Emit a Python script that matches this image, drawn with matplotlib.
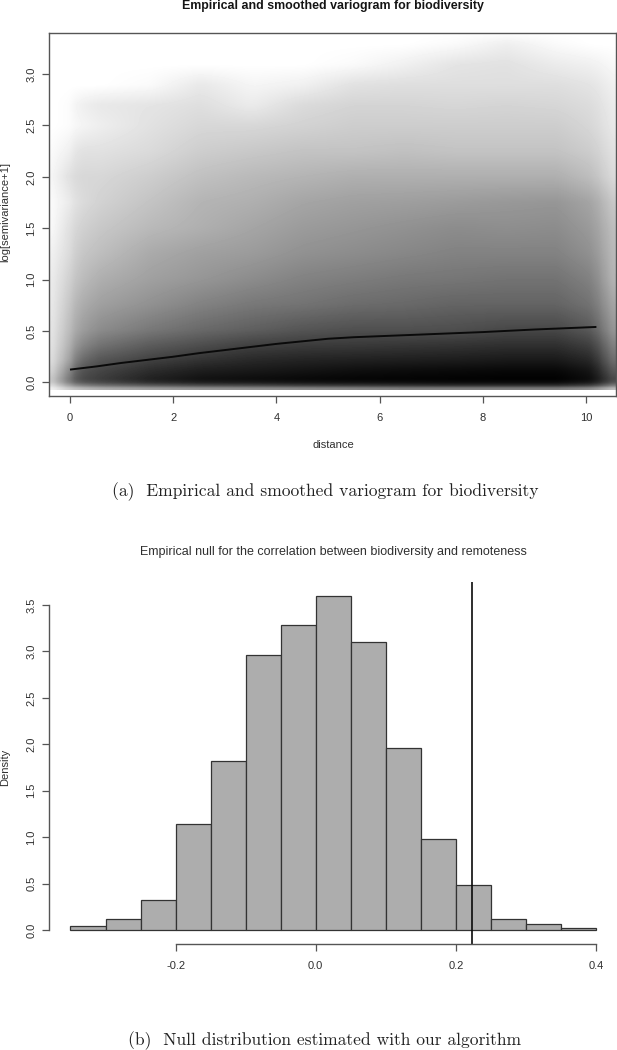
import matplotlib
matplotlib.use("Agg")
import matplotlib.pyplot as plt
import numpy as np

W, H = 617, 1050
SANS = "Liberation Sans"

grid_x = [-0.42, -0.1, 0.1, 0.5, 1.5, 2.5, 3.5, 4.5, 5.5, 6.5, 7.5, 8.5, 9.5, 10.2, 10.6]
grid_y = [-0.075, -0.04, 0.0, 0.1, 0.2, 0.35, 0.5, 0.75, 1.0, 1.25, 1.5, 1.75, 2.0, 2.25, 2.5, 2.7, 2.9, 3.1, 3.3, 3.41]
gray_levels = [
    [240, 205, 190, 175, 160, 150, 145, 140, 135, 130, 130, 130, 130, 145, 190],
    [215, 155, 120, 100, 75, 60, 55, 45, 40, 35, 30, 30, 30, 50, 110],
    [195, 120, 75, 60, 30, 15, 10, 6, 3, 2, 1, 0, 0, 12, 70],
    [210, 140, 85, 70, 45, 30, 25, 20, 15, 12, 10, 8, 8, 22, 90],
    [220, 165, 110, 85, 65, 50, 40, 35, 32, 30, 28, 25, 25, 40, 110],
    [225, 180, 140, 115, 92, 78, 65, 60, 58, 55, 52, 48, 48, 65, 130],
    [228, 190, 160, 140, 120, 105, 95, 85, 80, 80, 78, 72, 72, 90, 150],
    [232, 200, 175, 160, 145, 130, 120, 115, 108, 105, 100, 100, 100, 115, 165],
    [235, 210, 190, 175, 160, 150, 140, 130, 125, 120, 118, 115, 115, 130, 180],
    [240, 220, 200, 190, 170, 160, 155, 145, 140, 135, 130, 130, 130, 145, 185],
    [248, 225, 210, 200, 185, 175, 165, 155, 150, 145, 140, 142, 140, 155, 190],
    [250, 235, 220, 210, 195, 180, 175, 165, 160, 158, 155, 152, 150, 165, 200],
    [245, 225, 215, 215, 205, 192, 185, 180, 175, 175, 175, 175, 175, 190, 218],
    [250, 240, 225, 225, 218, 205, 200, 195, 195, 192, 195, 195, 195, 205, 225],
    [255, 252, 245, 238, 225, 215, 215, 210, 205, 205, 205, 205, 205, 215, 232],
    [255, 252, 240, 232, 228, 222, 235, 218, 212, 212, 214, 212, 214, 220, 235],
    [255, 255, 255, 255, 250, 232, 245, 240, 225, 222, 222, 222, 222, 228, 240],
    [255, 255, 255, 255, 255, 255, 255, 255, 250, 240, 228, 225, 235, 240, 248],
    [255, 255, 255, 255, 255, 255, 255, 255, 255, 255, 250, 238, 250, 255, 255],
    [255, 255, 255, 255, 255, 255, 255, 255, 255, 255, 255, 255, 255, 255, 255],
]

smooth_x = [0, 0.5, 1, 1.5, 2, 2.5, 3, 3.5, 4, 4.5, 5, 5.5, 6, 7, 8, 9, 10.2]
smooth_y = [0.125, 0.155, 0.19, 0.22, 0.25, 0.285, 0.315, 0.345, 0.375, 0.40, 0.425, 0.44, 0.45, 0.47, 0.49, 0.515, 0.54]

bin_edges = [-0.35, -0.30, -0.25, -0.20, -0.15, -0.10, -0.05, 0.0, 0.05, 0.10, 0.15, 0.20, 0.25, 0.30, 0.35, 0.40]
density = [0.04, 0.12, 0.32, 1.14, 1.82, 2.96, 3.28, 3.60, 3.10, 1.96, 0.98, 0.48, 0.12, 0.06, 0.02]
observed = 0.2236

x_ticks_a = [0, 2, 4, 6, 8, 10]
y_ticks_a = [0.0, 0.5, 1.0, 1.5, 2.0, 2.5, 3.0]
x_ticks_b = [-0.2, 0.0, 0.2, 0.4]
y_ticks_b = [0.0, 0.5, 1.0, 1.5, 2.0, 2.5, 3.0, 3.5]

INK = "#303030"
AXC = "#555555"

fig = plt.figure(figsize=(W / 100, H / 100), dpi=100)


def px_axes(left, top, right, bottom):
    return fig.add_axes([left / W, 1 - bottom / H, (right - left) / W, (bottom - top) / H])


def label(x, y, s, **kw):
    kw.setdefault("family", SANS)
    kw.setdefault("color", INK)
    fig.text(x / W, 1 - y / H, s, ha="center", va="center", **kw)


# Panel (a): resample the read grey levels on a regular raster, then let imshow smooth them
ax = px_axes(49, 33, 616, 395.7)
levels = np.array(gray_levels, float)
fine_x = np.linspace(grid_x[0], grid_x[-1], 70)
fine_y = np.linspace(grid_y[0], grid_y[-1], 110)
by_col = np.array([np.interp(fine_x, grid_x, row) for row in levels])
raster = np.array([np.interp(fine_y, grid_y, col) for col in by_col.T]).T
ax.imshow(raster, cmap="gray", vmin=0, vmax=255, origin="lower", aspect="auto",
          interpolation="gaussian",
          extent=(grid_x[0], grid_x[-1], grid_y[0], grid_y[-1]))
ax.set_xlim(-0.407, 10.58)
ax.set_ylim(-0.129, 3.40)
ax.plot(smooth_x, smooth_y, color="#0a0a0a", lw=1.4, solid_capstyle="butt")
ax.set_xticks(x_ticks_a, [str(t) for t in x_ticks_a])
ax.set_yticks(y_ticks_a, [f"{t:.1f}" for t in y_ticks_a])
ax.tick_params(axis="both", length=5.2, width=0.9, color=AXC, labelcolor=INK, labelsize=8.0)
ax.tick_params(axis="x", pad=7)
ax.tick_params(axis="y", pad=4)
for lab in ax.get_yticklabels():
    lab.set_rotation(90)
    lab.set_va("center")
for lab in ax.get_xticklabels() + ax.get_yticklabels():
    lab.set_family(SANS)
for sp in ax.spines.values():
    sp.set_color(AXC)
    sp.set_linewidth(1.0)

label(333, 6, "Empirical and smoothed variogram for biodiversity", fontsize=8.95, weight="bold", color="#151515")
label(333, 445, "distance", fontsize=8.0)
label(5, 212, "log[semivariance+1]", fontsize=8.0, rotation=90)
label(325, 492, "(a)  Empirical and smoothed variogram for biodiversity", family="cmr10", fontsize=12.6, color="#222222")

# Panel (b)
bx = px_axes(49, 582, 616, 944)
bx.set_xlim((49 - 315.7) / 700.6, (616 - 315.7) / 700.6)
bx.set_ylim(-14 / 92.86, 348 / 92.86)
bx.bar(bin_edges[:-1], density, width=np.diff(bin_edges), align="edge",
       facecolor="#adadad", edgecolor="#333333", linewidth=0.9)
bx.axvline(observed, color="#0a0a0a", lw=1.2)
bx.set_xticks(x_ticks_b, [f"{t:.1f}" for t in x_ticks_b])
bx.set_yticks(y_ticks_b, [f"{t:.1f}" for t in y_ticks_b])
bx.tick_params(axis="both", length=5.2, width=0.9, color=AXC, labelcolor=INK, labelsize=8.0)
bx.tick_params(axis="x", pad=7)
bx.tick_params(axis="y", pad=4)
for lab in bx.get_yticklabels():
    lab.set_rotation(90)
    lab.set_va("center")
for lab in bx.get_xticklabels() + bx.get_yticklabels():
    lab.set_family(SANS)
bx.spines["top"].set_visible(False)
bx.spines["right"].set_visible(False)
bx.spines["left"].set_bounds(y_ticks_b[0], y_ticks_b[-1])
bx.spines["bottom"].set_bounds(x_ticks_b[0], x_ticks_b[-1])
for s in ("left", "bottom"):
    bx.spines[s].set_color(AXC)
    bx.spines[s].set_linewidth(1.0)

label(333, 552, "Empirical null for the correlation between biodiversity and remoteness", fontsize=9.0)
label(5, 767, "Density", fontsize=8.0, rotation=90)
label(325, 1041, "(b)  Null distribution estimated with our algorithm", family="cmr10", fontsize=12.6, color="#222222")

fig.savefig("out.png", dpi=100)
